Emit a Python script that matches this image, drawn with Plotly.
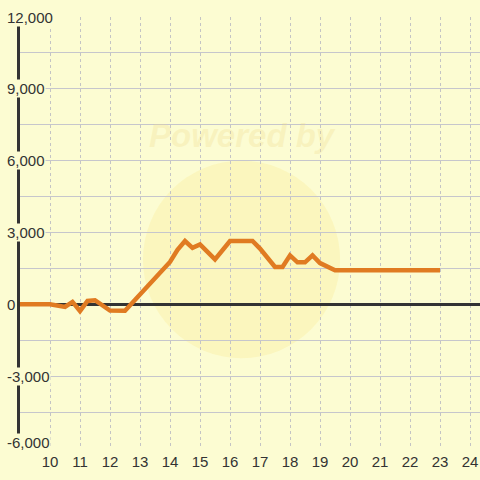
import plotly.graph_objects as go

# ============================================================
# data
# ============================================================
hours = [9, 10, 10.5, 10.75, 11, 11.25, 11.5, 12, 12.5, 14, 14.25, 14.5, 14.75,
         15, 15.5, 16, 16.75, 17, 17.5, 17.75, 18, 18.25, 18.5, 18.75, 19, 19.5, 23]
values = [0, 0, -110, 100, -280, 140, 170, -260, -270, 1770, 2280, 2645, 2360,
          2500, 1880, 2645, 2645, 2330, 1560, 1560, 2045, 1755, 1755, 2045, 1725, 1420, 1420]

x_ticks = list(range(10, 25))
y_labels = [12000, 9000, 6000, 3000, 0, -3000, -6000]

BG = "#fcfcd2"
INK = "#333333"

fig = go.Figure()

fig.add_trace(go.Scatter(
    x=hours,
    y=values,
    mode="lines",
    line=dict(color="#e07b22", width=4.5),
    hoverinfo="x+y",
    showlegend=False,
))

# faint watermark
fig.add_shape(type="circle", xref="x", yref="y",
              x0=13.1, x1=19.67, y0=-2250, y1=6000,
              fillcolor="rgba(250,226,110,0.2)", line=dict(width=0), layer="below")
fig.add_annotation(x=16.4, y=7060, xref="x", yref="y", text="<b><i>Powered by</i></b>",
                   showarrow=False, font=dict(size=33, color="rgba(238,218,140,0.28)",
                                              family="Liberation Sans"))

# y labels sit over the axis line with a background box
for v in y_labels:
    fig.add_annotation(
        x=0, xref="paper", y=v, yref="y", xanchor="left", xshift=-14,
        yshift=6 if v == min(y_labels) else 0,
        text=f"{v:,}", showarrow=False, bgcolor=BG, borderpad=0,
        font=dict(size=15, color=INK, family="Liberation Sans"),
    )

fig.update_layout(
    width=480, height=480,
    margin=dict(l=20, r=0, t=17, b=32),
    paper_bgcolor=BG,
    plot_bgcolor=BG,
    font=dict(family="Liberation Sans", size=14, color=INK),
)

fig.update_xaxes(
    range=[9, 24.3333],
    tickvals=x_ticks,
    showgrid=True, gridcolor="#c4c4c4", griddash="3px,3px", gridwidth=1,
    zeroline=False, showline=False, ticks="", ticklabelstandoff=3,
    tickfont=dict(size=15, color=INK),
)
fig.update_yaxes(
    range=[-6000, 12000],
    dtick=1500,
    showgrid=True, gridcolor="#c6c6cc", gridwidth=1,
    zeroline=True, zerolinecolor=INK, zerolinewidth=3,
    showline=True, linecolor=INK, linewidth=3,
    showticklabels=False, ticks="",
)

fig.write_html("out.html", config={"displayModeBar": False},
               post_script="document.body.style.margin='0';")
